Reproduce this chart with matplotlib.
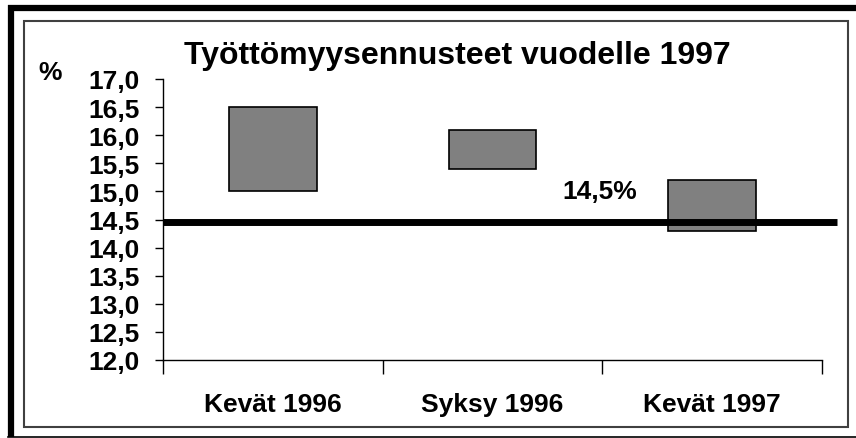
import matplotlib
matplotlib.use("Agg")
import matplotlib.pyplot as plt
from matplotlib.patches import Rectangle
from matplotlib.lines import Line2D

# Data
categories = ["Kevät 1996", "Syksy 1996", "Kevät 1997"]
forecast_low = [15.0, 15.4, 14.3]
forecast_high = [16.5, 16.1, 15.2]
actual_rate = 14.45
actual_label = "14,5%"
y_ticks = [12.0, 12.5, 13.0, 13.5, 14.0, 14.5, 15.0, 15.5, 16.0, 16.5, 17.0]

plt.rcParams["font.family"] = ["Liberation Sans", "DejaVu Sans"]
plt.rcParams["font.weight"] = "bold"

fig = plt.figure(figsize=(8.56, 4.39), dpi=100)
ax = fig.add_axes([163 / 856, 1 - 361 / 439, 659 / 856, 281 / 439])

# floating bars
centers = [i + 0.5 for i in range(len(categories))]
heights = [h - l for l, h in zip(forecast_low, forecast_high)]
ax.bar(centers, heights, bottom=forecast_low, width=0.4,
       color="#808080", edgecolor="black", linewidth=1.2, zorder=2)

# actual level line, runs a bit past the axis end
ax.plot([0, 3.07], [actual_rate, actual_rate], color="black", lw=5,
        solid_capstyle="butt", clip_on=False, zorder=3)
ax.text(1.82, 15.0, actual_label, fontsize=19, fontweight="bold",
        ha="left", va="center")

ax.set_xlim(0, 3)
ax.set_ylim(12, 17)
ax.set_yticks(y_ticks)
ax.set_yticklabels([f"{v:.1f}".replace(".", ",") for v in y_ticks],
                   fontsize=19, fontweight="bold")
ax.set_xticks([0, 1, 2, 3])
ax.set_xticklabels([])
ax.set_xticks(centers, minor=True)
ax.set_xticklabels(categories, minor=True, fontsize=19, fontweight="bold")
ax.tick_params(axis="x", which="minor", length=0, pad=23)
ax.tick_params(axis="x", which="major", direction="out", length=10, width=1)
ax.tick_params(axis="y", direction="out", length=6, width=1, pad=11)

for side in ["top", "right"]:
    ax.spines[side].set_visible(False)
ax.spines["left"].set_linewidth(1)
ax.spines["bottom"].set_linewidth(1)

fig.text(457 / 856, 1 - 64 / 439, "Työttömyysennusteet vuodelle 1997",
         fontsize=23, fontweight="bold", ha="center", va="baseline")
fig.text(38 / 856, 1 - 80 / 439, "%", fontsize=19, fontweight="bold",
         ha="left", va="baseline")

# frames
W, H = 856, 439
fig.add_artist(Rectangle((24 / W, 1 - 428 / H), 824 / W, 406 / H,
                         transform=fig.transFigure, fill=False,
                         edgecolor="#404040", lw=1.5))
fig.add_artist(Line2D([8 / W, 1], [1 - 9 / H, 1 - 9 / H],
                      transform=fig.transFigure, color="black", lw=4.5,
                      solid_capstyle="butt"))
fig.add_artist(Line2D([11 / W, 11 / W], [1 - 6 / H, 1 - 438 / H],
                      transform=fig.transFigure, color="black", lw=4.5,
                      solid_capstyle="butt"))
fig.add_artist(Line2D([8 / W, 1], [1 - 437.5 / H, 1 - 437.5 / H],
                      transform=fig.transFigure, color="black", lw=1.2))

fig.savefig("out.png", dpi=100)
